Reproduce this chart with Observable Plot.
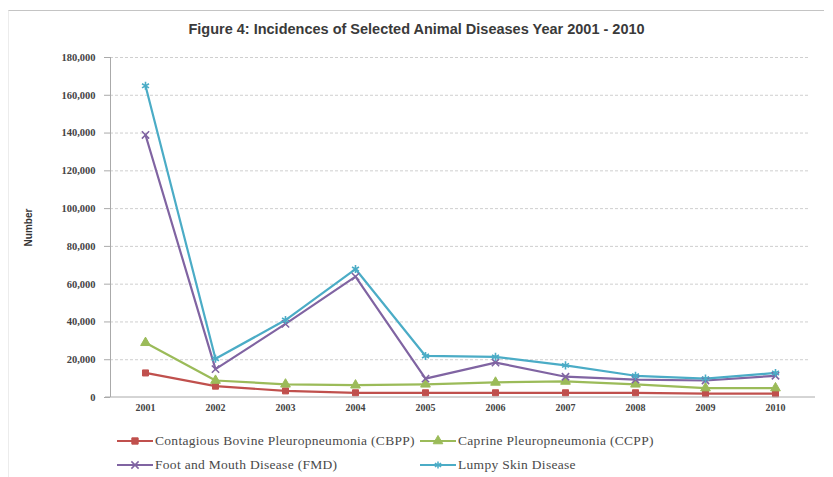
<!DOCTYPE html>
<html>
<head>
<meta charset="utf-8">
<script src="https://cdn.jsdelivr.net/npm/d3@7"></script>
<script src="https://cdn.jsdelivr.net/npm/@observablehq/plot@0.6"></script>
<style>
  html, body { margin: 0; padding: 0; background: #fff; }
  #wrap { position: relative; width: 833px; height: 477px; overflow: hidden; }
  #frame { position: absolute; left: 8px; top: 10px; width: 815px; height: 470px;
           border-top: 1px solid #c4c4c4; border-left: 1px solid #ececec; }
  #title { position: absolute; left: 0; top: 21px; width: 833px; text-align: center;
           font: bold 14.5px "Liberation Sans", Arial, sans-serif; color: #3a3a3a; }
  #chart { position: absolute; left: 0; top: 45px; }
  .leg { position: absolute; display: flex; align-items: center;
         font: 13.5px "Liberation Serif", "Times New Roman", serif; letter-spacing: 0.3px;
         color: #4a4a4a; white-space: nowrap; }
  .leg svg { margin-right: 2px; }
</style>
</head>
<body>
<div id="wrap">
  <div id="frame"></div>
  <div id="title">Figure 4: Incidences of Selected Animal Diseases Year 2001 - 2010</div>
  <div id="chart"></div>
</div>
<script>
// Years on the horizontal axis
const years = [2001, 2002, 2003, 2004, 2005, 2006, 2007, 2008, 2009, 2010];

// Reported incidences per disease
const cbpp = [13000, 6000, 3500, 2500, 2500, 2500, 2500, 2500, 2000, 2000];
const ccpp = [29000, 9000, 7000, 6500, 7000, 8000, 8500, 7000, 5000, 5000];
const fmd  = [139000, 15000, 39000, 64000, 10000, 18500, 11000, 9500, 9000, 11500];
const lsd  = [165000, 20500, 41000, 68000, 22000, 21500, 17000, 11500, 10000, 13000];

// Series names as shown in the legend
const names = [
  "Contagious Bovine Pleuropneumonia (CBPP)",
  "Caprine Pleuropneumonia (CCPP)",
  "Foot and Mouth Disease (FMD)",
  "Lumpy Skin Disease"
];

// Vertical axis ticks
const yTicks = [0, 20000, 40000, 60000, 80000, 100000, 120000, 140000, 160000, 180000];

const styles = [
  {color: "#c0504d", symbol: "square",   filled: true,  r: 3.4},
  {color: "#9bbb59", symbol: "triangle", filled: true,  r: 3.6},
  {color: "#8064a2", symbol: "times",    filled: false, r: 3.4},
  {color: "#4bacc6", symbol: "asterisk", filled: false, r: 3.8}
];

const series = [cbpp, ccpp, fmd, lsd].map((values, k) => ({
  name: names[k],
  style: styles[k],
  rows: years.map((year, i) => ({year, value: values[i]}))
}));

const marks = [
  Plot.ruleY(yTicks.filter(d => d > 0), {stroke: "#cfcfcf", strokeDasharray: "3,2"}),
  Plot.axisX({tickSize: 0, tickPadding: 6, fontSize: 10, fontWeight: "bold",
              tickFormat: d => String(d),
              fontFamily: "Liberation Serif, serif", fill: "#444", label: null}),
  Plot.axisY({ticks: yTicks, tickFormat: d3.format(","), tickSize: 6, tickPadding: 9,
              fontSize: 10.5, fontWeight: "bold", fontFamily: "Liberation Serif, serif",
              fill: "#444", stroke: "#aaa", label: null}),
  Plot.ruleX([years[0]], {stroke: "#aaa", dx: -35}),
  Plot.text(["Number"], {text: d => d, frameAnchor: "left", textAnchor: "middle",
                         rotate: -90, dx: -82,
                         fontSize: 10, fontWeight: "bold", fontFamily: "Liberation Sans, sans-serif",
                         fill: "#333"})
];

for (const s of series) {
  marks.push(Plot.line(s.rows, {x: "year", y: "value", stroke: s.style.color, strokeWidth: 2.2}));
}
for (const s of series) {
  marks.push(Plot.dot(s.rows, {
    x: "year", y: "value", symbol: () => s.style.symbol, r: s.style.r,
    fill: s.style.filled ? s.style.color : "none",
    stroke: s.style.color, strokeWidth: s.style.filled ? 1 : 1.6
  }));
}

const chart = Plot.plot({
  width: 833,
  height: 375,
  marginLeft: 110,
  marginRight: 23,
  marginTop: 12,
  marginBottom: 23,
  x: {type: "point", domain: years, padding: 0.5},
  y: {domain: [0, 180000]},
  symbol: {type: "identity"},
  marks
});
document.getElementById("chart").appendChild(chart);

// Full-width baseline under the plot area
const svg = d3.select(chart);
const yScale = chart.scale("y");
svg.append("line")
  .attr("x1", 105).attr("x2", 815)
  .attr("y1", yScale.apply(0)).attr("y2", yScale.apply(0))
  .attr("stroke", "#aaa");

// Legend
const legendPos = [[117, 441], [420, 441], [117, 465], [420, 465]];
const symbolTypes = {
  square: d3.symbolSquare, triangle: d3.symbolTriangle,
  times: d3.symbolTimes, asterisk: d3.symbolAsterisk
};
series.forEach((s, k) => {
  const item = d3.select("#wrap").append("div").attr("class", "leg")
    .style("left", legendPos[k][0] + "px")
    .style("top", (legendPos[k][1] - 8) + "px");
  const sw = item.append("svg").attr("width", 36).attr("height", 16);
  sw.append("line").attr("x1", 0).attr("x2", 36).attr("y1", 8).attr("y2", 8)
    .attr("stroke", s.style.color).attr("stroke-width", 2.2);
  sw.append("path")
    .attr("transform", "translate(18,8)")
    .attr("d", d3.symbol(symbolTypes[s.style.symbol], s.style.filled ? 40 : 36)())
    .attr("fill", s.style.filled ? s.style.color : "none")
    .attr("stroke", s.style.color).attr("stroke-width", s.style.filled ? 1 : 1.5);
  item.append("span").text(s.name);
});
</script>
</body>
</html>
